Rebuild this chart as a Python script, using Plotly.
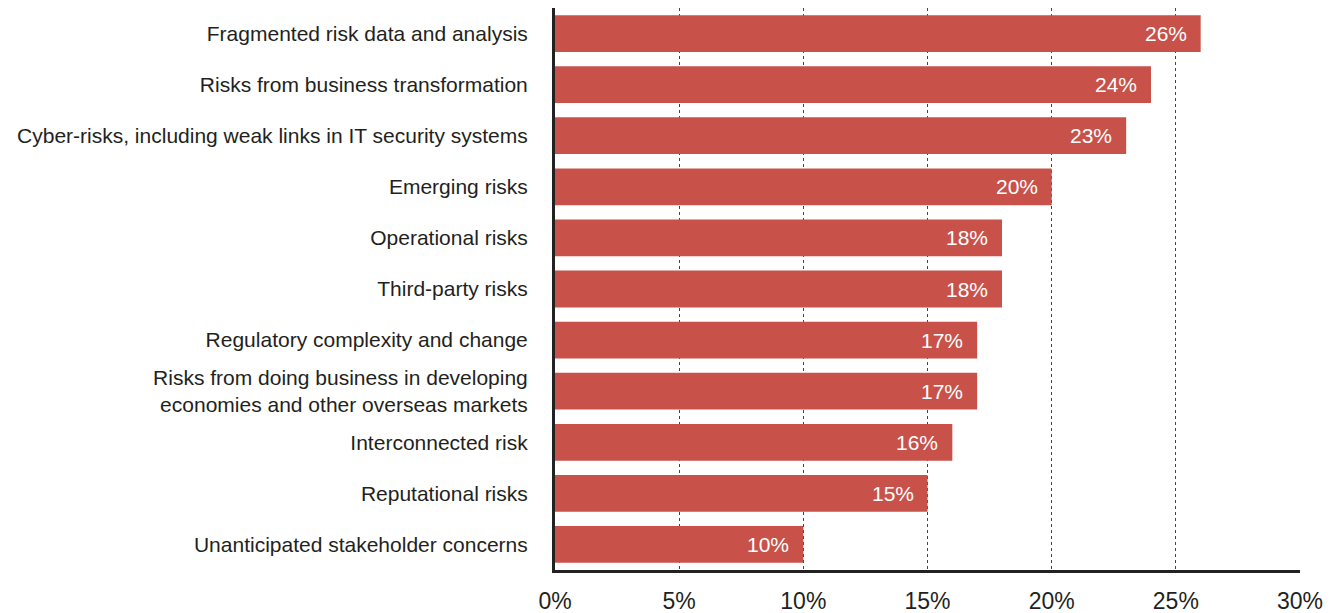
import plotly.graph_objects as go

categories = [
    "Fragmented risk data and analysis",
    "Risks from business transformation",
    "Cyber-risks, including weak links in IT security systems",
    "Emerging risks",
    "Operational risks",
    "Third-party risks",
    "Regulatory complexity and change",
    "Risks from doing business in developing<br>economies and other overseas markets",
    "Interconnected risk",
    "Reputational risks",
    "Unanticipated stakeholder concerns",
]
values = [26, 24, 23, 20, 18, 18, 17, 17, 16, 15, 10]
tick_vals = [0, 5, 10, 15, 20, 25, 30]
tick_text = ["0%", "5%", "10%", "15%", "20%", "25%", "30%"]

BAR = "#C8524A"
TXT = "#231F20"
FONT = "Liberation Sans, Arial, sans-serif"

fig = go.Figure(go.Bar(
    x=values, y=categories, orientation="h",
    marker=dict(color=BAR, line=dict(width=0)),
    hoverinfo="skip",
))

for v, c in zip(values, categories):
    fig.add_annotation(x=v, y=c, text=f"{v}%", showarrow=False,
                       xanchor="right", xshift=-12,
                       font=dict(family=FONT, size=21, color="white"))

fig.update_layout(
    width=1338, height=613,
    margin=dict(l=555, r=38, t=8, b=43, autoexpand=False),
    paper_bgcolor="white", plot_bgcolor="white",
    bargap=0.28,
    showlegend=False,
    font=dict(family=FONT, color=TXT),
)
fig.update_xaxes(
    range=[0, 30], tickvals=tick_vals, ticktext=tick_text,
    showgrid=True, gridcolor="#444444", griddash="dot", gridwidth=1,
    zeroline=False, showline=True, linecolor="#222222", linewidth=2.5,
    ticks="", ticklabelstandoff=9, automargin=False,
    tickfont=dict(family=FONT, size=23, color=TXT),
)
fig.update_yaxes(
    autorange="reversed",
    showgrid=False, zeroline=False,
    showline=True, linecolor="#222222", linewidth=3,
    ticks="", ticklabelstandoff=20, automargin=False,
    tickfont=dict(family=FONT, size=21, color=TXT),
)

fig.write_html("out.html")
